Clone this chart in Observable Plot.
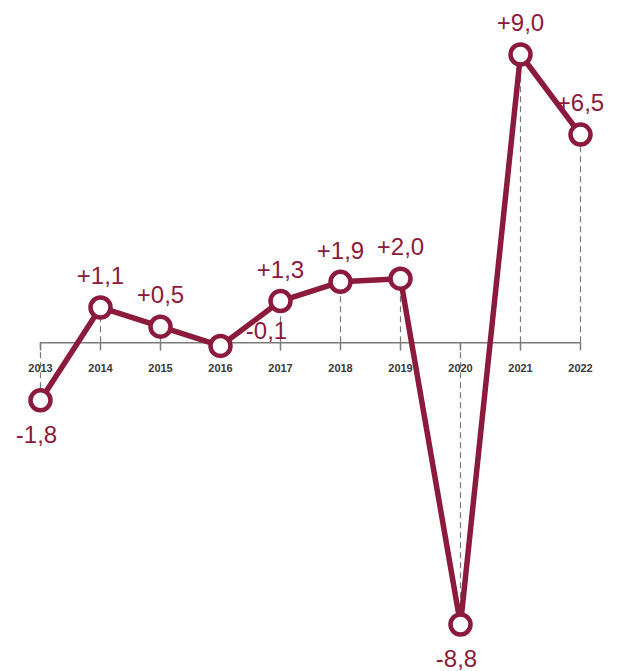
<!DOCTYPE html>
<html>
<head>
<meta charset="utf-8">
<script src="https://cdn.jsdelivr.net/npm/d3@7"></script>
<script src="https://cdn.jsdelivr.net/npm/@observablehq/plot@0.6"></script>
<style>
  html, body { margin: 0; padding: 0; background: #fff; }
  #chart svg { display: block; }
</style>
</head>
<body>
<div id="chart"></div>
<script>
const years = [2013, 2014, 2015, 2016, 2017, 2018, 2019, 2020, 2021, 2022];
const values = [-1.8, 1.1, 0.5, -0.1, 1.3, 1.9, 2.0, -8.8, 9.0, 6.5];

const data = years.map((year, i) => ({year, value: values[i]}));
const fmt = v => (v > 0 ? "+" : "-") + Math.abs(v).toFixed(1).replace(".", ",");

const maroon = "#8b1a3c";
const gray = "#7a7a7a";
const labelFont = "'Liberation Sans', Arial, sans-serif";

const above = data.filter(d => d.value > 0);
const below = data.filter(d => d.value < -1);
const nearZero = data.filter(d => d.value < 0 && d.value >= -1);

const chart = Plot.plot({
  width: 619,
  height: 671,
  margin: 0,
  x: {domain: [2013, 2022], range: [40, 580], axis: null},
  y: {domain: [-8.8, 9], range: [624, 54], axis: null},
  marks: [
    Plot.ruleX(data, {x: "year", y1: 0, y2: "value", stroke: gray, strokeWidth: 1.2, strokeDasharray: "6,4"}),
    Plot.ruleY([0], {x1: 2013, x2: 2022, stroke: gray, strokeWidth: 1.5}),
    Plot.ruleX(years, {x: d => d, y1: 0, y2: -0.26, stroke: gray, strokeWidth: 1.5}),
    Plot.text(years, {x: d => d, y: 0, text: d => String(d), dy: 26, fontSize: 11, fontWeight: "bold",
      fontFamily: "'Liberation Sans Narrow', 'Arial Narrow', sans-serif", fill: "#3a3a3a"}),
    Plot.line(data, {x: "year", y: "value", stroke: maroon, strokeWidth: 5.5, strokeLinejoin: "round"}),
    Plot.dot(data, {x: "year", y: "value", r: 10, fill: "white", stroke: maroon, strokeWidth: 4.5}),
    Plot.text(above, {x: "year", y: "value", text: d => fmt(d.value), dy: -31, fontSize: 24,
      fontFamily: labelFont, fill: maroon}),
    Plot.text(below, {x: "year", y: "value", text: d => fmt(d.value), dx: -4, dy: 35, fontSize: 24,
      fontFamily: labelFont, fill: maroon}),
    Plot.text(nearZero, {x: "year", y: "value", text: d => fmt(d.value), dx: 46, dy: -15, fontSize: 24,
      fontFamily: labelFont, fill: maroon})
  ]
});
document.getElementById("chart").appendChild(chart);
</script>
</body>
</html>
